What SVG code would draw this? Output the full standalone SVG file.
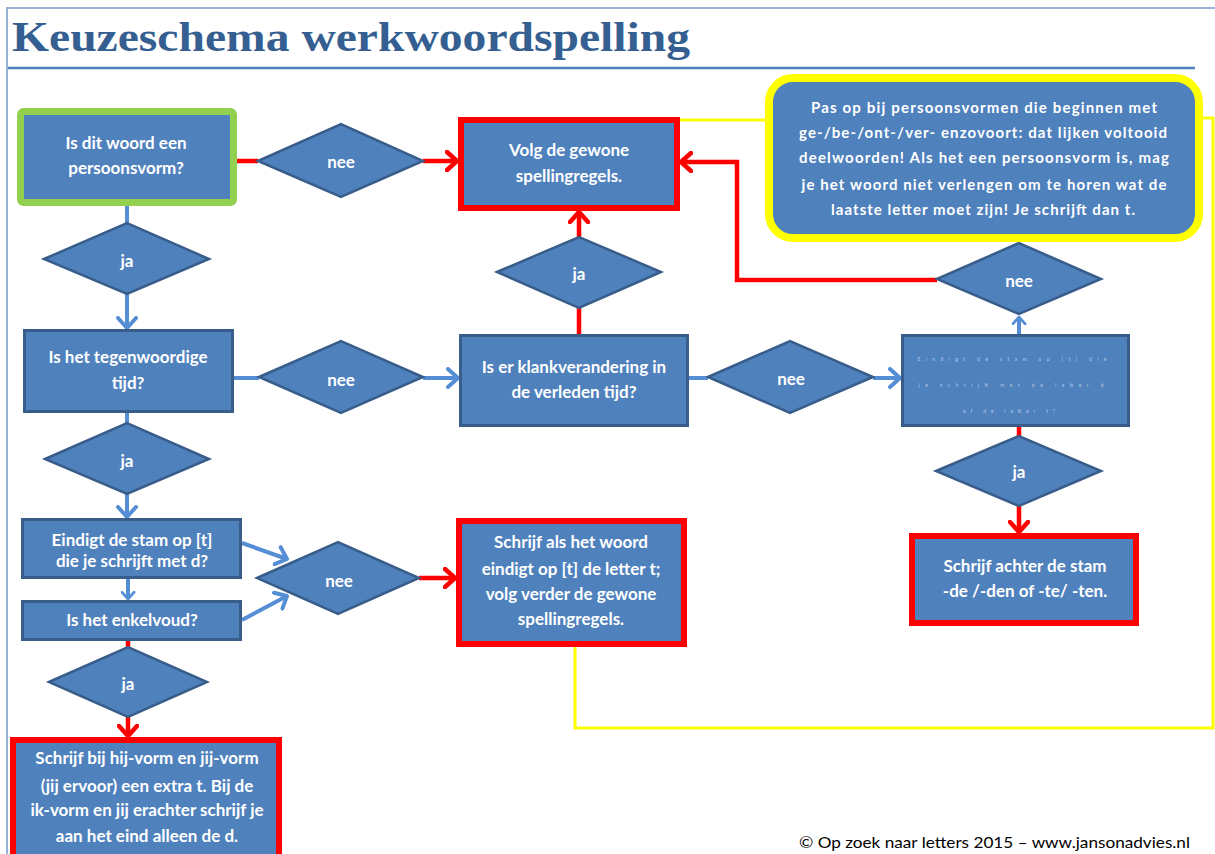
<svg xmlns="http://www.w3.org/2000/svg" width="1215" height="854" viewBox="0 0 1215 854">
<style>
.box{fill:#4F81BD;stroke:#385D8A;stroke-width:3}
.red{fill:#4F81BD;stroke:#FF0000;stroke-width:6}
.dia{fill:#4F81BD;stroke:#385D8A;stroke-width:2.5}
.t{font-family:Lato,"Liberation Sans",sans-serif;font-weight:bold;font-size:17px;fill:#FFFFFF;text-anchor:middle}
.ty{font-family:Lato,"Liberation Sans",sans-serif;font-weight:bold;font-size:15px;fill:#FFFFFF;text-anchor:middle}
.tiny{font-family:Lato,"Liberation Sans",sans-serif;font-size:5px;fill:#B4C7E7;text-anchor:middle}
.cb{fill:none;stroke:#558ED5;stroke-width:4}
.cr{fill:none;stroke:#FF0000;stroke-width:4.5}
.cy{fill:none;stroke:#FFFF00;stroke-width:3}
</style>
<defs>
<marker id="ab" markerUnits="userSpaceOnUse" viewBox="0 0 14 22" markerWidth="14" markerHeight="22" refX="12" refY="11" orient="auto">
<path d="M2,2 L12,11 L2,20" fill="none" stroke="#558ED5" stroke-width="4" stroke-linecap="round" stroke-linejoin="round"/>
</marker>
<marker id="abs" markerUnits="userSpaceOnUse" viewBox="0 0 14 22" markerWidth="10" markerHeight="15" refX="12" refY="11" orient="auto">
<path d="M2,2 L12,11 L2,20" fill="none" stroke="#558ED5" stroke-width="4" stroke-linecap="round" stroke-linejoin="round"/>
</marker>
<marker id="ar" markerUnits="userSpaceOnUse" viewBox="0 0 14 22" markerWidth="14" markerHeight="22" refX="12" refY="11" orient="auto">
<path d="M2,2 L12,11 L2,20" fill="none" stroke="#FF0000" stroke-width="4.5" stroke-linecap="round" stroke-linejoin="round"/>
</marker>
</defs>
<rect width="1215" height="854" fill="#FFFFFF"/>
<g id="page">
<path d="M7,854 L7,8 L1215,8" fill="none" stroke="#95B3D7" stroke-width="2"/>
<line x1="8" y1="68" x2="1195" y2="68" stroke="#4F81BD" stroke-width="2.5"/>
<text x="12" y="51" font-family="'Liberation Serif',serif" font-weight="bold" font-size="42" fill="#365F91" textLength="678" lengthAdjust="spacingAndGlyphs">Keuzeschema werkwoordspelling</text>
<text x="799" y="848" font-family="Lato,'Liberation Sans',sans-serif" font-size="16" fill="#000000" textLength="391" lengthAdjust="spacingAndGlyphs">© Op zoek naar letters 2015 – www.jansonadvies.nl</text>
</g>
<g id="connectors">
<line class="cb" x1="127" y1="206" x2="127" y2="223"/>
<line class="cb" x1="127" y1="294" x2="127" y2="328" marker-end="url(#ab)"/>
<line class="cb" x1="234" y1="378" x2="259" y2="378"/>
<line class="cb" x1="423" y1="378" x2="458" y2="378" marker-end="url(#ab)"/>
<line class="cb" x1="127" y1="413" x2="127" y2="423"/>
<line class="cb" x1="127" y1="494" x2="127" y2="517" marker-end="url(#ab)"/>
<line class="cb" x1="128" y1="579" x2="128" y2="599" marker-end="url(#abs)" stroke-width="3"/>
<line class="cb" x1="242" y1="543" x2="287" y2="559" marker-end="url(#ab)" stroke-width="3"/>
<line class="cb" x1="242" y1="620" x2="287" y2="596" marker-end="url(#ab)" stroke-width="3"/>
<line class="cb" x1="689" y1="378" x2="708" y2="378"/>
<line class="cb" x1="873" y1="378" x2="900" y2="378" marker-end="url(#ab)"/>
<line class="cb" x1="1019" y1="334" x2="1019" y2="317" marker-end="url(#abs)" stroke-width="3"/>
<line class="cr" x1="237" y1="161" x2="258" y2="161"/>
<line class="cr" x1="423" y1="161" x2="457" y2="161" marker-end="url(#ar)"/>
<line class="cr" x1="579" y1="334" x2="579" y2="308"/>
<line class="cr" x1="579" y1="237" x2="579" y2="212" marker-end="url(#ar)"/>
<path class="cr" d="M937,280 L737,280 L737,162 L681,162" marker-end="url(#ar)"/>
<line class="cr" x1="1019" y1="427" x2="1019" y2="436"/>
<line class="cr" x1="1019" y1="506" x2="1019" y2="532" marker-end="url(#ar)"/>
<line class="cr" x1="419" y1="578" x2="455" y2="578" marker-end="url(#ar)"/>
<line class="cr" x1="128" y1="641" x2="128" y2="647"/>
<line class="cr" x1="128" y1="717" x2="128" y2="736" marker-end="url(#ar)"/>
<line class="cy" x1="680" y1="120" x2="765" y2="120"/>
<path class="cy" d="M575,647 L575,728 L1213,728 L1213,118 L1203,118"/>
</g>
<g id="n1">
<rect x="20.5" y="111.5" width="213" height="91" rx="3" fill="#4F81BD" stroke="#92D050" stroke-width="7"/>
<text class="t" x="126" y="149">Is dit woord een</text>
<text class="t" x="126" y="174">persoonsvorm?</text>
</g>
<g id="d1"><polygon class="dia" points="258,161 341,124 423,161 341,197"/><text class="t" x="341" y="168">nee</text></g>
<g id="n3">
<rect class="red" x="461" y="120" width="216" height="88"/>
<text class="t" x="569" y="156">Volg de gewone</text>
<text class="t" x="569" y="182">spellingregels.</text>
</g>
<g id="d2"><polygon class="dia" points="44,259 127,223 209,259 127,294"/><text class="t" x="127" y="267">ja</text></g>
<g id="n5">
<rect class="box" x="24.5" y="330.5" width="208" height="81"/>
<text class="t" x="128" y="363">Is het tegenwoordige</text>
<text class="t" x="128" y="389">tijd?</text>
</g>
<g id="d6"><polygon class="dia" points="259,377 341,341 423,377 341,413"/><text class="t" x="341" y="386">nee</text></g>
<g id="n7">
<rect class="box" x="460.5" y="335.5" width="227" height="90"/>
<text class="t" x="574" y="373">Is er klankverandering in</text>
<text class="t" x="574" y="398">de verleden tijd?</text>
</g>
<g id="d8"><polygon class="dia" points="497,272 579,237 661,272 579,308"/><text class="t" x="579" y="280">ja</text></g>
<g id="d9"><polygon class="dia" points="708,377 790,341 873,377 790,413"/><text class="t" x="791" y="385">nee</text></g>
<g id="n10">
<rect class="box" x="902.5" y="335.5" width="226" height="90"/>
<text class="tiny" x="1012" y="361" textLength="189" lengthAdjust="spacing">Eindigt de stam op [t] die</text>
<text class="tiny" x="1011" y="387" textLength="185" lengthAdjust="spacing">je schrijft met de letter d</text>
<text class="tiny" x="1009" y="413" textLength="92" lengthAdjust="spacing">of de letter t?</text>
</g>
<g id="d11"><polygon class="dia" points="937,279 1019,243 1101,279 1019,314"/><text class="t" x="1019" y="287">nee</text></g>
<g id="d12"><polygon class="dia" points="936,471 1019,436 1101,471 1019,506"/><text class="t" x="1019" y="478">ja</text></g>
<g id="n13">
<rect class="red" x="912" y="536" width="224" height="87"/>
<text class="t" x="1025" y="572">Schrijf achter de stam</text>
<text class="t" x="1025" y="597">-de /-den of -te/ -ten.</text>
</g>
<g id="n14">
<rect x="769" y="78" width="430" height="160" rx="24" fill="#4F81BD" stroke="#FFFF00" stroke-width="8"/>
<text class="ty" x="984" y="113" textLength="346" lengthAdjust="spacing">Pas op bij persoonsvormen die beginnen met</text>
<text class="ty" x="983" y="138" textLength="368" lengthAdjust="spacing">ge-/be-/ont-/ver- enzovoort: dat lijken voltooid</text>
<text class="ty" x="984" y="163" textLength="370" lengthAdjust="spacing">deelwoorden! Als het een persoonsvorm is, mag</text>
<text class="ty" x="984" y="190" textLength="365" lengthAdjust="spacing">je het woord niet verlengen om te horen wat de</text>
<text class="ty" x="983" y="215" textLength="304" lengthAdjust="spacing">laatste letter moet zijn! Je schrijft dan t.</text>
</g>
<g id="d14"><polygon class="dia" points="45,459 127,423 209,459 127,494"/><text class="t" x="127" y="467">ja</text></g>
<g id="n15">
<rect class="box" x="22.5" y="519.5" width="218" height="58"/>
<text class="t" x="132" y="546">Eindigt de stam op [t]</text>
<text class="t" x="132" y="567">die je schrijft met d?</text>
</g>
<g id="n16">
<rect class="box" x="22.5" y="601.5" width="218" height="38"/>
<text class="t" x="132" y="626">Is het enkelvoud?</text>
</g>
<g id="d17"><polygon class="dia" points="257,578 338,542 419,578 338,614"/><text class="t" x="339" y="587">nee</text></g>
<g id="n18">
<rect class="red" x="459" y="521" width="225" height="123"/>
<text class="t" x="571" y="548">Schrijf als het woord</text>
<text class="t" x="571" y="575">eindigt op [t] de letter t;</text>
<text class="t" x="571" y="600">volg verder de gewone</text>
<text class="t" x="571" y="625">spellingregels.</text>
</g>
<g id="d19"><polygon class="dia" points="49,682 128,647 207,682 128,717"/><text class="t" x="128" y="690">ja</text></g>
<g id="n20">
<rect class="red" x="13" y="740" width="266" height="130"/>
<text class="t" x="147" y="764">Schrijf bij hij-vorm en jij-vorm</text>
<text class="t" x="147" y="792">(jij ervoor) een extra t. Bij de</text>
<text class="t" x="147" y="816">ik-vorm en jij erachter schrijf je</text>
<text class="t" x="147" y="842">aan het eind alleen de d.</text>
</g>
</svg>
